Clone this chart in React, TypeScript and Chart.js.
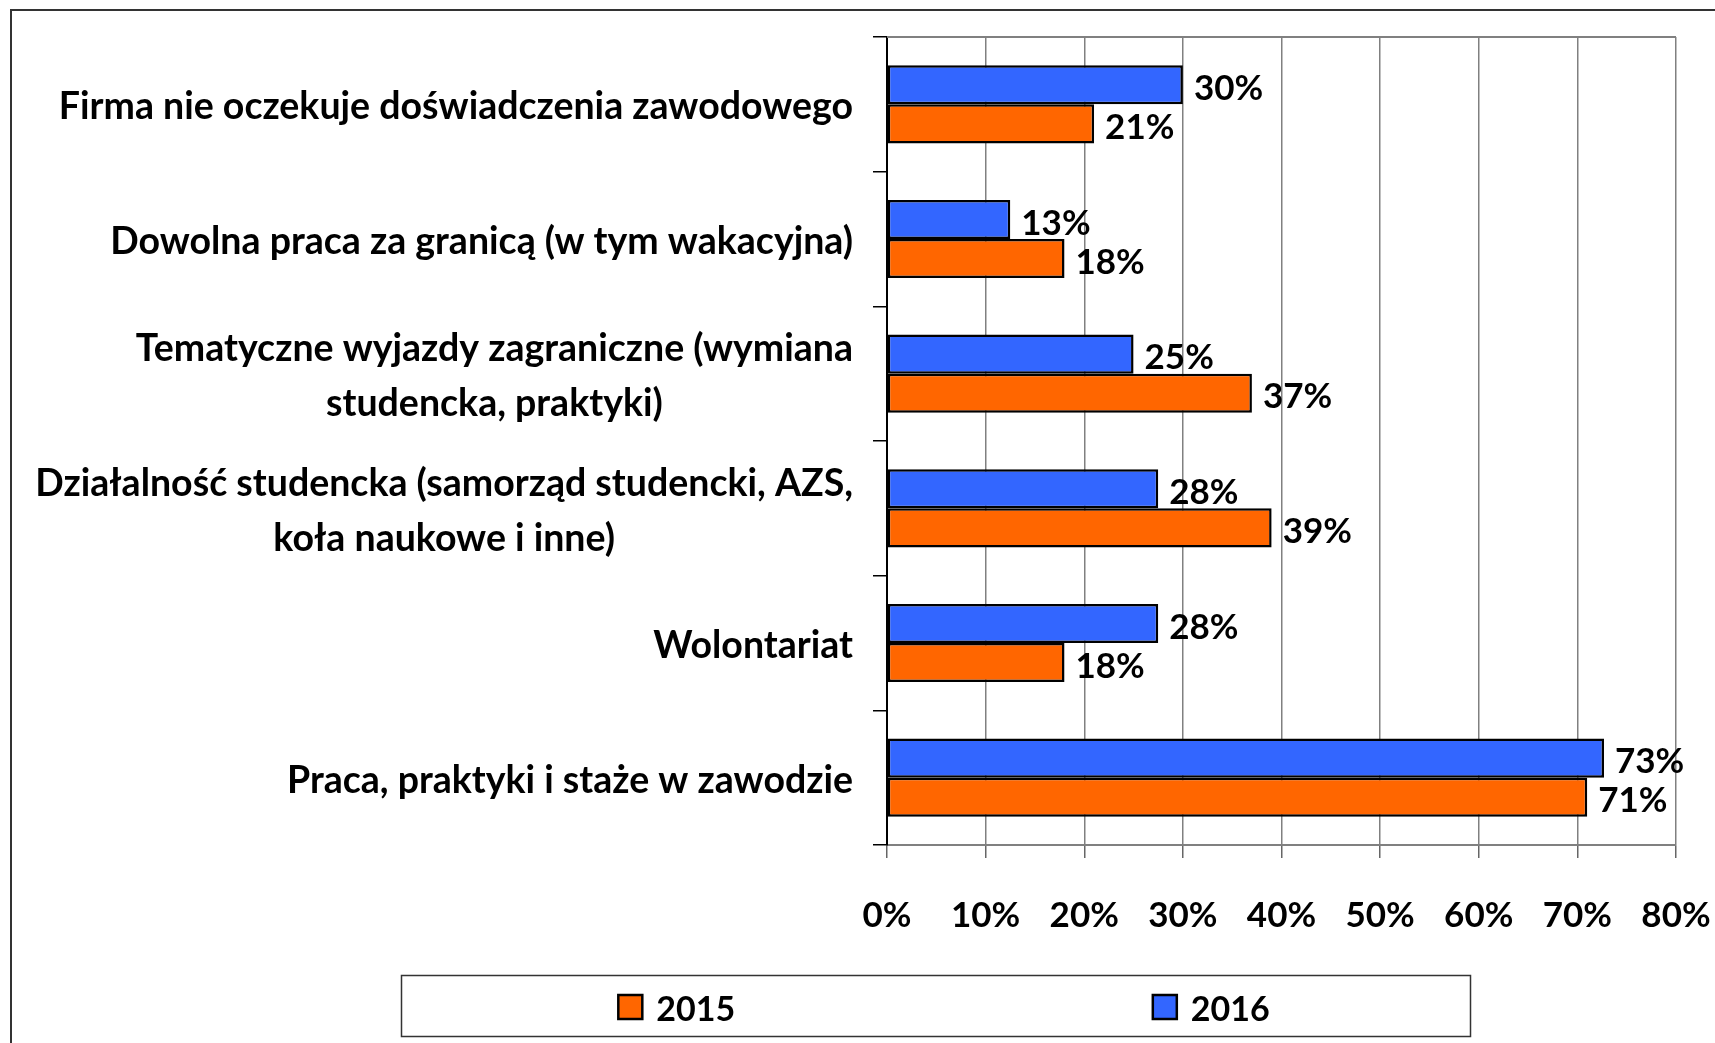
import React, { useEffect, useRef } from "react";
import { Chart, registerables } from "chart.js";

Chart.register(...registerables);

const categories: string[][] = [
  ["Firma nie oczekuje doświadczenia zawodowego"],
  ["Dowolna praca za granicą (w tym wakacyjna)"],
  ["Tematyczne wyjazdy zagraniczne (wymiana", "studencka, praktyki)"],
  ["Działalność studencka (samorząd studencki, AZS,", "koła naukowe i inne)"],
  ["Wolontariat"],
  ["Praca, praktyki i staże w zawodzie"],
];
const seriesLabels = ["2016", "2015"];
const values2016 = [30, 12.5, 25, 27.5, 27.5, 72.7];
const values2015 = [21, 18, 37, 39, 18, 71];
const xMin = 0;
const xMax = 80;
const xStep = 10;

const FONT = "Lato, 'Open Sans', sans-serif";
const BLUE = "#3366FF";
const ORANGE = "#FF6600";

const W = 1715;
const H = 1043;

const framePlugin = {
  id: "frame",
  beforeDraw(chart: any) {
    const ctx = chart.ctx;
    ctx.save();
    ctx.fillStyle = "#fff";
    ctx.fillRect(0, 0, chart.width, chart.height);
    ctx.strokeStyle = "#333";
    ctx.lineWidth = 2;
    ctx.strokeRect(11, 10, chart.width + 20, chart.height + 20);
    ctx.restore();
  },
  beforeDatasetsDraw(chart: any) {
    const { ctx, chartArea } = chart;
    ctx.save();
    ctx.strokeStyle = "#808080";
    ctx.lineWidth = 2;
    ctx.beginPath();
    ctx.moveTo(chartArea.left, chartArea.top);
    ctx.lineTo(chartArea.right, chartArea.top);
    ctx.stroke();
    ctx.restore();
  },
};

const valueLabelPlugin = {
  id: "valueLabels",
  afterDatasetsDraw(chart: any) {
    const ctx = chart.ctx;
    ctx.save();
    ctx.font = `bold 35px ${FONT}`;
    ctx.fillStyle = "#000";
    ctx.textAlign = "left";
    ctx.textBaseline = "middle";
    chart.data.datasets.forEach((ds: any, di: number) => {
      const meta = chart.getDatasetMeta(di);
      meta.data.forEach((el: any, i: number) => {
        const v = ds.data[i] as number;
        ctx.fillText(Math.round(v) + "%", el.x + 11, el.y + 4);
      });
    });
    ctx.restore();
  },
};

const categoryLabelPlugin = {
  id: "categoryLabels",
  afterDraw(chart: any) {
    const ctx = chart.ctx;
    const yScale = chart.scales.y;
    const right = chart.chartArea.left - 34;
    const lineH = 55;
    ctx.save();
    ctx.font = `bold 37.5px ${FONT}`;
    ctx.fillStyle = "#000";
    ctx.textAlign = "center";
    ctx.textBaseline = "middle";
    (chart.data.labels as string[][]).forEach((lines, i) => {
      const y = yScale.getPixelForValue(i) + 3;
      const maxW = Math.max(...lines.map((l) => ctx.measureText(l).width));
      const cx = right - maxW / 2;
      lines.forEach((l, j) => {
        ctx.fillText(l, cx, y + (j - (lines.length - 1) / 2) * lineH);
      });
    });
    ctx.restore();
  },
};

const legendPlugin = {
  id: "boxLegend",
  afterDraw(chart: any) {
    const ctx = chart.ctx;
    const box = { x: 401.5, y: 975.5, w: 1069, h: 61 };
    ctx.save();
    ctx.strokeStyle = "#333";
    ctx.lineWidth = 1.5;
    ctx.strokeRect(box.x, box.y, box.w, box.h);
    ctx.font = `bold 34px ${FONT}`;
    ctx.textBaseline = "middle";
    ctx.textAlign = "left";
    const items = chart.data.datasets.slice().reverse();
    const half = box.w / items.length;
    const sq = 24;
    const gap = 14;
    items.forEach((ds: any, k: number) => {
      const tw = ctx.measureText(ds.label).width;
      const itemW = sq + gap + tw;
      const cx = box.x + half * k + half / 2 + 8;
      const x0 = cx - itemW / 2;
      const cy = box.y + box.h / 2 + 1;
      ctx.fillStyle = ds.backgroundColor;
      ctx.fillRect(x0, cy - sq / 2, sq, sq);
      ctx.strokeStyle = "#000";
      ctx.lineWidth = 2.5;
      ctx.strokeRect(x0, cy - sq / 2, sq, sq);
      ctx.fillStyle = "#000";
      ctx.fillText(ds.label, x0 + sq + gap, cy + 3);
    });
    ctx.restore();
  },
};

export default function App() {
  const ref = useRef<HTMLCanvasElement | null>(null);

  useEffect(() => {
    if (!ref.current) return;
    const chart = new Chart(ref.current, {
      type: "bar",
      data: {
        labels: categories,
        datasets: [
          {
            label: seriesLabels[0],
            data: values2016,
            backgroundColor: BLUE,
            borderColor: "#000",
            borderWidth: 2.5,
            borderSkipped: false,
          },
          {
            label: seriesLabels[1],
            data: values2015,
            backgroundColor: ORANGE,
            borderColor: "#000",
            borderWidth: 2.5,
            borderSkipped: false,
          },
        ],
      },
      options: {
        indexAxis: "y",
        animation: false,
        responsive: false,
        devicePixelRatio: 1,
        categoryPercentage: 0.58,
        barPercentage: 1,
        layout: { padding: { top: 37, right: 39, left: 0, bottom: 0 } },
        plugins: {
          legend: { display: false },
          tooltip: { enabled: false },
        },
        scales: {
          x: {
            min: xMin,
            max: xMax,
            ticks: {
              stepSize: xStep,
              callback: (v: any) => v + "%",
              color: "#000",
              font: { family: FONT, size: 35, weight: "bold" },
              padding: 37,
            },
            grid: {
              color: "#808080",
              lineWidth: 1.5,
              tickLength: 13,
              tickColor: "#666",
            },
            border: { color: "#808080", width: 2 },
            afterFit: (s: any) => {
              s.height = H - 845;
              s.paddingLeft = 0;
              s.paddingRight = 0;
            },
          },
          y: {
            ticks: { display: false },
            grid: {
              offset: true,
              drawOnChartArea: false,
              tickLength: 14,
              color: "#000",
              lineWidth: 1.5,
            },
            border: { color: "#000", width: 2 },
            afterFit: (s: any) => {
              s.width = 887;
              s.paddingTop = 0;
              s.paddingBottom = 0;
            },
          },
        },
      } as any,
      plugins: [framePlugin, valueLabelPlugin, categoryLabelPlugin, legendPlugin],
    });
    return () => chart.destroy();
  }, []);

  return (
    <div
      style={{
        position: "fixed",
        left: 0,
        top: 0,
        width: W,
        height: H,
        background: "#fff",
        overflow: "hidden",
      }}
    >
      <canvas ref={ref} width={W} height={H} style={{ display: "block", width: W, height: H }} />
    </div>
  );
}
